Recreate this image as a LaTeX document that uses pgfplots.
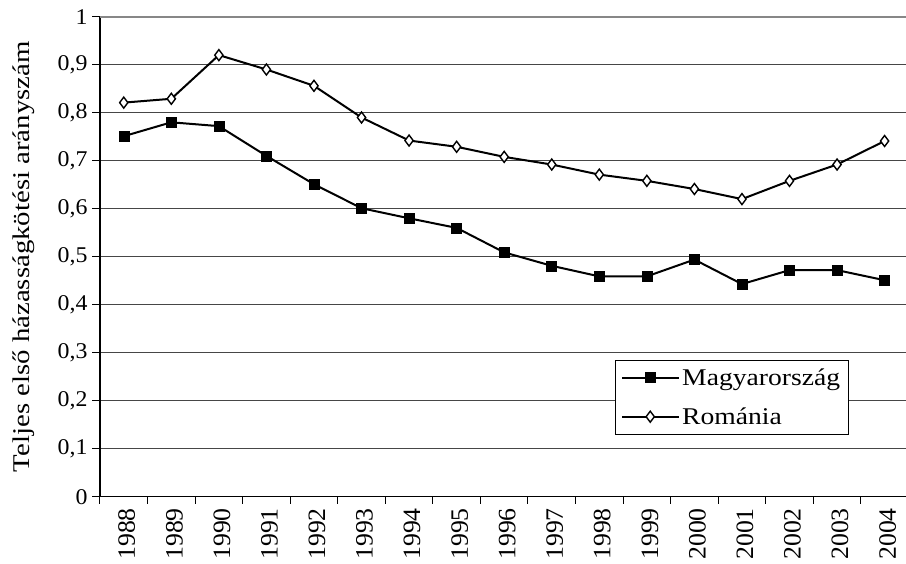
\documentclass[border=0pt]{standalone}
\usepackage{pgfplots}
\pgfplotsset{compat=1.18}
\usepackage{fontspec}
\setmainfont{Liberation Serif}
\newfontfamily\rotfont[FakeStretch=1.2]{Liberation Serif}
\newfontfamily\yearfont[FakeStretch=1.03]{Liberation Serif}
\newfontfamily\legfont[FakeStretch=1.15]{Liberation Serif}
\newfontfamily\tickfont[FakeStretch=1.06]{Liberation Serif}
\definecolor{gridgray}{RGB}{70,70,70}
\definecolor{topgray}{RGB}{135,135,135}

\begin{document}
\begin{tikzpicture}
\begin{axis}[
    at={(0,0)}, anchor=south west,
    scale only axis,
    width=806pt, height=480pt,
    xmin=-0.5, xmax=16.45,
    ymin=0, ymax=1,
    axis x line*=bottom,
    axis y line*=left,
    axis line style={black, line width=1.2pt},
    xtick={0,...,16},
    xticklabels={1988,1989,1990,1991,1992,1993,1994,1995,1996,1997,1998,1999,2000,2001,2002,2003,2004},
    minor xtick={-0.5,0.5,...,15.5},
    major x tick style={draw=none},
    minor x tick style={black, line width=1pt},
    minor tick length=7pt,
    ytick={0,0.1,...,1.01},
    major y tick style={black, line width=1pt},
    major tick length=8pt,
    tick align=outside,
    ymajorgrids,
    grid style={gridgray, line width=1pt},
    /pgf/number format/.cd, use comma, fixed, precision=1, assume math mode=true,
    /pgfplots/.cd,
    yticklabel style={font=\tickfont\fontsize{22.5}{26}\selectfont, xshift=-1pt},
    xticklabel style={font=\yearfont\fontsize{25}{28}\selectfont, rotate=90, anchor=east, yshift=-3pt, inner ysep=0pt},
    ylabel={Teljes első házasságkötési arányszám},
    every axis y label/.style={at={(rel axis cs:0,0.5)}, anchor=center, xshift=-76pt, rotate=90, font=\rotfont\fontsize{24}{28}\selectfont},
    legend style={at={(rel axis cs:0.639,0.1306)}, anchor=south west,
        draw=black, fill=white,
        font=\legfont\fontsize{24}{28}\selectfont,
        inner xsep=6pt, inner ysep=6pt,
        row sep=17pt},
    legend cell align=left,
    legend image code/.code={
        \draw[#1, line width=2pt, mark repeat=2, mark phase=2] plot coordinates {(0pt,0pt) (28pt,0pt) (57pt,0pt)};
    },
    clip=false,
]
\draw[topgray, line width=2pt] (rel axis cs:0,1) -- (rel axis cs:1,1);
\addplot[black, line width=2pt, mark=square*, mark size=5pt, mark options={solid, fill=black, line width=0.5pt}]
coordinates {(0,0.751) (1,0.780) (2,0.772) (3,0.710) (4,0.651) (5,0.601) (6,0.580) (7,0.560) (8,0.509) (9,0.481) (10,0.459) (11,0.459) (12,0.494) (13,0.443) (14,0.472) (15,0.472) (16,0.451)};
\addplot[black, line width=2pt, mark=diamond*, mark size=5.5pt, mark options={solid, fill=white, line width=1.4pt}]
coordinates {(0,0.821) (1,0.829) (2,0.920) (3,0.890) (4,0.856) (5,0.790) (6,0.742) (7,0.729) (8,0.708) (9,0.692) (10,0.671) (11,0.658) (12,0.641) (13,0.620) (14,0.658) (15,0.692) (16,0.741)};
\legend{Magyarország, Románia}
\end{axis}
\pgfresetboundingbox
\path[use as bounding box] (-100pt,-66.3pt) rectangle (806pt,496.7pt);
\end{tikzpicture}
\end{document}
